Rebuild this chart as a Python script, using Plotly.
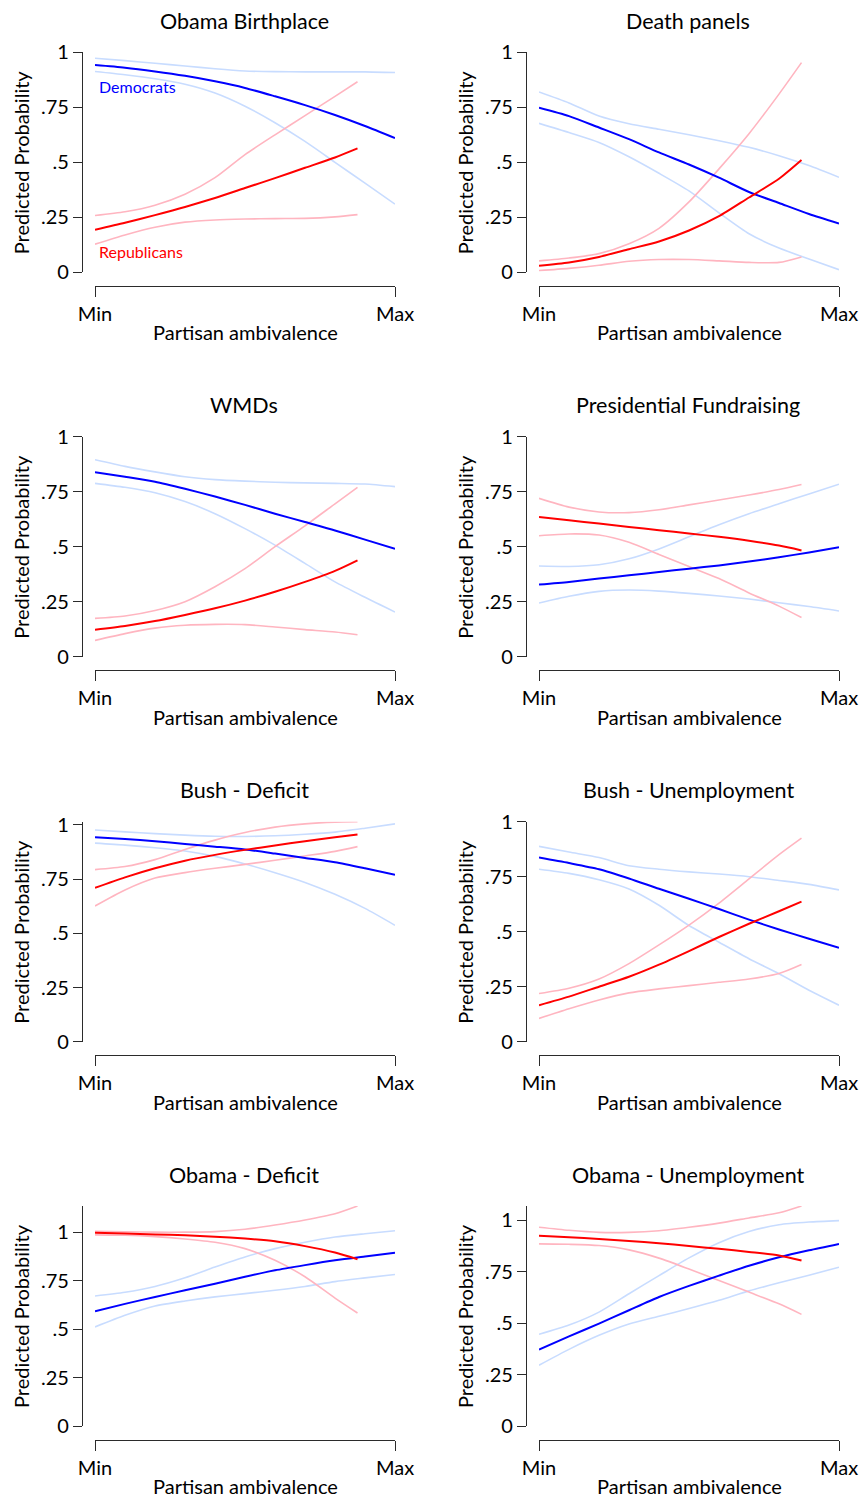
import plotly.graph_objects as go

# ---------------- data ----------------
x_dem = [0, 0.1, 0.2, 0.3, 0.4, 0.5, 0.6, 0.7, 0.8, 0.9, 1.0]
x_rep = [0, 0.1, 0.2, 0.3, 0.4, 0.5, 0.6, 0.7, 0.8, 0.875]

x_ticks = [0, 1]
x_ticklabels = ["Min", "Max"]
y_ticks = [0, 0.25, 0.5, 0.75, 1]
y_ticklabels = ["0", ".25", ".5", ".75", "1"]

titles = ["Obama Birthplace", "Death panels", "WMDs", "Presidential Fundraising",
          "Bush - Deficit", "Bush - Unemployment", "Obama - Deficit", "Obama - Unemployment"]

# Obama Birthplace
birth_dem = [0.942, 0.93, 0.913, 0.893, 0.868, 0.838, 0.80, 0.76, 0.715, 0.665, 0.61]
birth_dem_hi = [0.973, 0.962, 0.95, 0.938, 0.925, 0.915, 0.912, 0.911, 0.911, 0.911, 0.908]
birth_dem_lo = [0.913, 0.898, 0.88, 0.855, 0.815, 0.755, 0.68, 0.595, 0.50, 0.405, 0.31]
birth_rep = [0.193, 0.225, 0.26, 0.297, 0.338, 0.383, 0.428, 0.475, 0.522, 0.563]
birth_rep_hi = [0.258, 0.275, 0.305, 0.355, 0.43, 0.535, 0.625, 0.712, 0.80, 0.866]
birth_rep_lo = [0.128, 0.17, 0.205, 0.228, 0.238, 0.242, 0.244, 0.245, 0.252, 0.262]

# Death panels
death_dem = [0.748, 0.71, 0.658, 0.605, 0.545, 0.49, 0.43, 0.365, 0.315, 0.265, 0.222]
death_dem_hi = [0.82, 0.77, 0.71, 0.675, 0.65, 0.625, 0.598, 0.568, 0.53, 0.485, 0.432]
death_dem_lo = [0.677, 0.635, 0.59, 0.525, 0.45, 0.37, 0.27, 0.175, 0.11, 0.06, 0.012]
death_rep = [0.03, 0.045, 0.07, 0.105, 0.14, 0.19, 0.255, 0.34, 0.425, 0.51]
death_rep_hi = [0.052, 0.065, 0.085, 0.13, 0.2, 0.32, 0.47, 0.63, 0.81, 0.953]
death_rep_lo = [0.008, 0.018, 0.032, 0.05, 0.058, 0.058, 0.052, 0.045, 0.045, 0.07]

# WMDs
wmd_dem = [0.839, 0.818, 0.795, 0.763, 0.728, 0.69, 0.65, 0.612, 0.574, 0.532, 0.49]
wmd_dem_hi = [0.895, 0.865, 0.84, 0.818, 0.805, 0.798, 0.793, 0.79, 0.788, 0.785, 0.773]
wmd_dem_lo = [0.788, 0.77, 0.745, 0.705, 0.65, 0.582, 0.507, 0.424, 0.34, 0.27, 0.203]
wmd_rep = [0.123, 0.14, 0.162, 0.19, 0.22, 0.255, 0.295, 0.34, 0.39, 0.438]
wmd_rep_hi = [0.174, 0.185, 0.21, 0.25, 0.318, 0.4, 0.5, 0.595, 0.695, 0.77]
wmd_rep_lo = [0.074, 0.105, 0.13, 0.143, 0.147, 0.146, 0.135, 0.123, 0.112, 0.10]

# Presidential Fundraising
fund_dem = [0.328, 0.34, 0.355, 0.37, 0.385, 0.40, 0.415, 0.433, 0.452, 0.474, 0.497]
fund_dem_hi = [0.412, 0.41, 0.418, 0.445, 0.49, 0.545, 0.60, 0.65, 0.695, 0.74, 0.784]
fund_dem_lo = [0.244, 0.275, 0.297, 0.303, 0.298, 0.288, 0.276, 0.262, 0.245, 0.228, 0.208]
fund_rep = [0.635, 0.62, 0.605, 0.59, 0.575, 0.56, 0.545, 0.527, 0.505, 0.483]
fund_rep_hi = [0.72, 0.68, 0.658, 0.655, 0.668, 0.69, 0.712, 0.735, 0.76, 0.783]
fund_rep_lo = [0.55, 0.558, 0.553, 0.52, 0.465, 0.41, 0.355, 0.29, 0.23, 0.178]

# Bush - Deficit
bdef_dem = [0.943, 0.935, 0.925, 0.912, 0.90, 0.887, 0.868, 0.848, 0.828, 0.80, 0.77]
bdef_dem_hi = [0.977, 0.968, 0.96, 0.953, 0.948, 0.947, 0.95, 0.957, 0.967, 0.985, 1.005]
bdef_dem_lo = [0.916, 0.907, 0.895, 0.88, 0.855, 0.82, 0.78, 0.735, 0.68, 0.615, 0.537]
bdef_rep = [0.71, 0.758, 0.80, 0.835, 0.862, 0.885, 0.905, 0.925, 0.943, 0.956]
bdef_rep_hi = [0.794, 0.808, 0.84, 0.887, 0.93, 0.965, 0.99, 1.005, 1.013, 1.015]
bdef_rep_lo = [0.626, 0.70, 0.755, 0.78, 0.80, 0.818, 0.837, 0.857, 0.878, 0.90]

# Bush - Unemployment
bun_dem = [0.837, 0.812, 0.784, 0.742, 0.695, 0.65, 0.603, 0.555, 0.51, 0.468, 0.427]
bun_dem_hi = [0.888, 0.862, 0.837, 0.80, 0.784, 0.772, 0.762, 0.75, 0.733, 0.715, 0.69]
bun_dem_lo = [0.784, 0.765, 0.736, 0.694, 0.62, 0.528, 0.452, 0.377, 0.309, 0.234, 0.166]
bun_rep = [0.166, 0.205, 0.25, 0.295, 0.35, 0.412, 0.476, 0.536, 0.593, 0.637]
bun_rep_hi = [0.219, 0.243, 0.285, 0.355, 0.44, 0.53, 0.63, 0.74, 0.85, 0.925]
bun_rep_lo = [0.106, 0.15, 0.19, 0.222, 0.24, 0.255, 0.27, 0.285, 0.31, 0.351]

# Obama - Deficit
odef_dem = [0.592, 0.63, 0.666, 0.70, 0.734, 0.77, 0.803, 0.83, 0.855, 0.875, 0.894]
odef_dem_hi = [0.671, 0.69, 0.72, 0.765, 0.82, 0.872, 0.915, 0.948, 0.975, 0.992, 1.007]
odef_dem_lo = [0.511, 0.571, 0.619, 0.645, 0.666, 0.683, 0.70, 0.72, 0.745, 0.764, 0.782]
odef_rep = [0.997, 0.993, 0.988, 0.984, 0.977, 0.967, 0.953, 0.928, 0.895, 0.86]
odef_rep_hi = [1.005, 1.002, 1.0, 1.0, 1.003, 1.015, 1.037, 1.063, 1.095, 1.135]
odef_rep_lo = [0.986, 0.984, 0.977, 0.965, 0.948, 0.915, 0.855, 0.77, 0.66, 0.583]

# Obama - Unemployment
oun_dem = [0.371, 0.435, 0.497, 0.562, 0.626, 0.68, 0.73, 0.778, 0.819, 0.853, 0.884]
oun_dem_hi = [0.445, 0.49, 0.553, 0.642, 0.73, 0.816, 0.89, 0.944, 0.977, 0.99, 0.997]
oun_dem_lo = [0.295, 0.372, 0.44, 0.495, 0.533, 0.57, 0.61, 0.656, 0.695, 0.732, 0.771]
oun_rep = [0.924, 0.916, 0.908, 0.898, 0.887, 0.874, 0.86, 0.845, 0.828, 0.803]
oun_rep_hi = [0.965, 0.95, 0.94, 0.94, 0.948, 0.965, 0.985, 1.01, 1.035, 1.068]
oun_rep_lo = [0.884, 0.882, 0.876, 0.855, 0.815, 0.762, 0.706, 0.65, 0.593, 0.542]

panels = [
    (birth_dem, birth_dem_hi, birth_dem_lo, birth_rep, birth_rep_hi, birth_rep_lo),
    (death_dem, death_dem_hi, death_dem_lo, death_rep, death_rep_hi, death_rep_lo),
    (wmd_dem, wmd_dem_hi, wmd_dem_lo, wmd_rep, wmd_rep_hi, wmd_rep_lo),
    (fund_dem, fund_dem_hi, fund_dem_lo, fund_rep, fund_rep_hi, fund_rep_lo),
    (bdef_dem, bdef_dem_hi, bdef_dem_lo, bdef_rep, bdef_rep_hi, bdef_rep_lo),
    (bun_dem, bun_dem_hi, bun_dem_lo, bun_rep, bun_rep_hi, bun_rep_lo),
    (odef_dem, odef_dem_hi, odef_dem_lo, odef_rep, odef_rep_hi, odef_rep_lo),
    (oun_dem, oun_dem_hi, oun_dem_lo, oun_rep, oun_rep_hi, oun_rep_lo),
]

# ---------------- style / layout ----------------
W, H = 861, 1497
FONT = "Lato"
BLUE, RED = "#0000ff", "#ff0000"
LBLUE, LRED = "#c8dcff", "#ffb5c0"
AXC = "#2b2b2b"

col_x0 = [95, 539]      # px of Min
col_yax = [82, 526]     # px of y-axis line
row_zero = [272.3, 656.7, 1041.7, 1426.0]  # px of y=0
PH = 220                 # px height of y axis
PW = 300                 # px width Min..Max


def px_x(p):
    return p / W


def px_y(p):
    return 1 - p / H


fig = go.Figure()
annotations = []
layout_axes = {}

for i, (dm, dh, dl, rm, rh, rl) in enumerate(panels):
    r, c = divmod(i, 2)
    k = i + 1
    xa = "x" if k == 1 else f"x{k}"
    ya = "y" if k == 1 else f"y{k}"
    ymax = max(1.0, max(dm + dh + dl + rm + rh + rl))

    for xs, ys, col, wd in [
        (x_dem, dh, LBLUE, 1.6), (x_dem, dl, LBLUE, 1.6),
        (x_rep, rh, LRED, 1.6), (x_rep, rl, LRED, 1.6),
        (x_dem, dm, BLUE, 2.0), (x_rep, rm, RED, 2.0),
    ]:
        fig.add_trace(go.Scatter(x=xs, y=ys, mode="lines", xaxis=xa, yaxis=ya,
                                 line=dict(color=col, width=wd, shape="spline", smoothing=0.7),
                                 showlegend=False, hoverinfo="skip"))

    zero = row_zero[r]
    x0 = col_x0[c]
    xkey = "xaxis" if k == 1 else f"xaxis{k}"
    ykey = "yaxis" if k == 1 else f"yaxis{k}"
    layout_axes[xkey] = dict(
        domain=[px_x(x0), px_x(x0 + PW)], range=[0, 1], anchor="free",
        position=px_y(zero + 13.5), showline=True, linecolor=AXC, linewidth=1.3,
        tickvals=x_ticks, ticktext=x_ticklabels, ticks="outside", ticklen=10,
        tickcolor=AXC, tickwidth=1.3, showgrid=False, zeroline=False, automargin=False,
        tickfont=dict(family=FONT, size=20, color="black"), ticklabelstandoff=0,
        fixedrange=True,
    )
    layout_axes[ykey] = dict(
        domain=[px_y(zero), px_y(zero - PH)], range=[0, ymax], anchor="free",
        position=px_x(col_yax[c]), showline=True, linecolor=AXC, linewidth=1.3,
        tickvals=y_ticks, ticktext=y_ticklabels, ticks="outside", ticklen=9,
        tickcolor=AXC, tickwidth=1.3, showgrid=False, zeroline=False, automargin=False,
        tickfont=dict(family=FONT, size=20, color="black"), fixedrange=True,
    )
    cx = x0 + PW / 2
    # panel title
    annotations.append(dict(text=titles[i], x=px_x(cx - 1), y=px_y(zero - PH - 31.5),
                            xref="paper", yref="paper", showarrow=False,
                            xanchor="center", yanchor="middle",
                            font=dict(family=FONT, size=21.5, color="black")))
    # x axis title
    annotations.append(dict(text="Partisan ambivalence", x=px_x(cx), y=px_y(zero + 60),
                            xref="paper", yref="paper", showarrow=False,
                            xanchor="center", yanchor="middle",
                            font=dict(family=FONT, size=20, color="black")))
    # y axis title
    annotations.append(dict(text="Predicted Probability", x=px_x(col_yax[c] - 61),
                            y=px_y(zero - PH / 2), xref="paper", yref="paper",
                            showarrow=False, textangle=-90, xanchor="center", yanchor="middle",
                            font=dict(family=FONT, size=20, color="black")))

# series labels in first panel
annotations.append(dict(text="Democrats", x=px_x(97), y=px_y(86.7), xref="paper", yref="paper",
                        showarrow=False, xanchor="left", yanchor="middle",
                        font=dict(family=FONT, size=16, color=BLUE)))
annotations.append(dict(text="Republicans", x=px_x(97), y=px_y(251.7), xref="paper", yref="paper",
                        showarrow=False, xanchor="left", yanchor="middle",
                        font=dict(family=FONT, size=16, color=RED)))

fig.update_layout(width=W, height=H, margin=dict(l=0, r=0, t=0, b=0, autoexpand=False),
                  paper_bgcolor="white", plot_bgcolor="white",
                  annotations=annotations, showlegend=False, **layout_axes)

fig.write_html("out.html")
